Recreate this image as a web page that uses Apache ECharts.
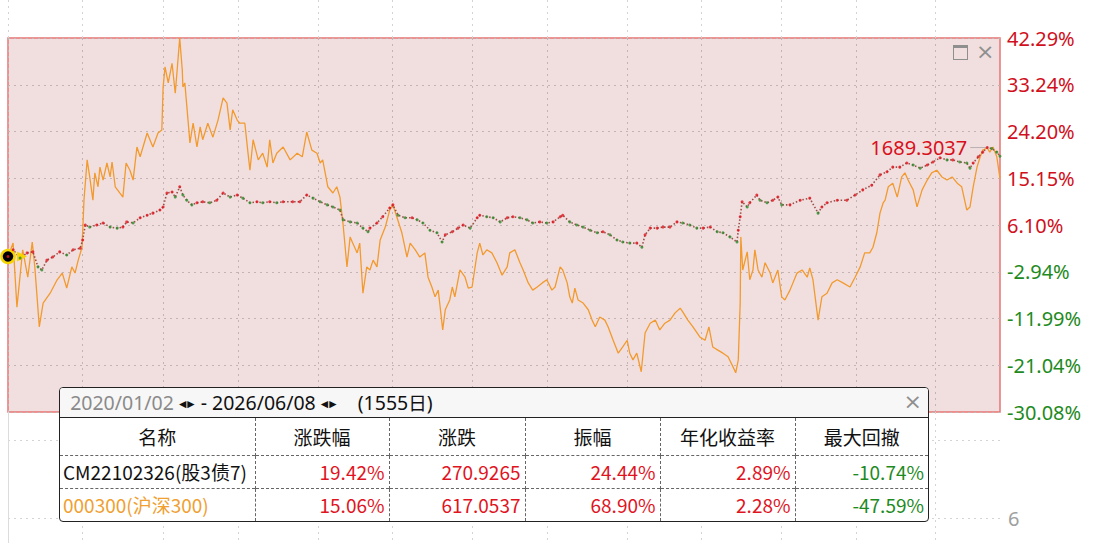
<!DOCTYPE html>
<html><head><meta charset="utf-8">
<script src="https://cdn.jsdelivr.net/npm/echarts@6/dist/echarts.min.js"></script>
<style>
html,body{margin:0;padding:0;background:#fff;width:1097px;height:543px;overflow:hidden;font-family:"Noto Sans CJK SC","Noto Sans",sans-serif;}
#chart{position:absolute;left:0;top:0;width:1097px;height:543px;}
#icons{position:absolute;left:953px;top:44px;width:45px;height:18px;}
#icons .box{position:absolute;left:0;top:1px;width:13px;height:11px;border:1.5px solid #8f8f8f;border-top-width:3px;}
#icons .x{position:absolute;left:23px;top:-6px;font-size:22px;color:#8f8f8f;line-height:28px;font-family:"DejaVu Sans",sans-serif;}
#panel{position:absolute;left:59px;top:387px;width:868px;border:1.5px solid #222;border-radius:4px;background:#fff;overflow:hidden;}
#title{height:28.5px;border-bottom:1.5px solid #222;background:#f7f7f7;position:relative;font-size:19.5px;line-height:28px;white-space:pre;color:#111;font-family:"Noto Sans","Noto Sans CJK SC",sans-serif;}
#title .d1{color:#8a8a8a;}
#title .arr{font-family:"DejaVu Sans",sans-serif;font-size:9.5px;vertical-align:3px;letter-spacing:1px;}
#title .cjk{font-family:"Noto Sans CJK SC",sans-serif;font-size:18.5px;}
#title .close{position:absolute;right:6px;top:0;color:#8f8f8f;font-size:22px;font-family:"DejaVu Sans",sans-serif;line-height:28px;}
table{border-collapse:collapse;table-layout:fixed;width:868px;font-size:19px;}
td{padding:0 4px;border-left:1px dashed #666;border-top:1px dashed #666;white-space:nowrap;overflow:hidden;}
tr:first-child td{border-top:none;height:37px;text-align:center;color:#111;}
tr td:first-child{border-left:none;}
tr.r td{height:32px;text-align:right;}
tr.r td.nm{text-align:left;padding-left:3px;}
</style>
</head><body>
<div id="chart"></div>
<div id="icons"><div class="box"></div><div class="x">×</div></div>
<div id="panel">
  <div id="title"></div>
  <table id="tbl"></table>
</div>
<script>
// ---- axis ticks ----
const xTickIdx = [0,116,243,361,486,602,728,844,970,1086,1212,1329,1453]; // half-year boundaries (trading-day index)
const xMax = 1554;
const yTicks = [-30.084,-21.0373,-11.9906,-2.9439,6.1028,15.1495,24.1962,33.2429,42.2896];
const yTickLabels = ['-30.08%','-21.04%','-11.99%','-2.94%','6.10%','15.15%','24.20%','33.24%','42.29%'];
const subTicks = [6,12];
const subTickLabels = ['6'];

// ---- series: [trading-day index, cumulative return %] ----
const csi300 = [[0,0],[8,2.6],[14,-9.8],[23,1.3],[31,-4.0],[38,2.8],[42,-2.0],[49,-13.6],[55,-9.0],[66,-7.1],[77,-4.5],[85,-3.2],[92,-6.1],[100,-2.0],[105,-3.2],[110,-0.7],[116,1.8],[119,10.9],[124,18.7],[128,15.4],[133,10.9],[136,16.2],[141,13.5],[144,17.3],[149,14.8],[155,18.1],[160,15.4],[163,18.3],[168,13.5],[175,12.3],[180,11.5],[185,18.1],[191,16.7],[196,14.8],[202,21.2],[207,19.3],[218,23.9],[227,21.2],[235,23.9],[241,24.5],[243,32.8],[246,36.7],[251,33.6],[257,37.4],[262,31.6],[265,36.1],[269,42.29],[273,36.1],[274,32.8],[277,33.6],[282,26.4],[285,22.0],[290,25.8],[296,21.2],[301,25.1],[305,22.6],[313,25.8],[321,23.1],[329,26.4],[337,30.7],[343,29.7],[348,24.5],[352,28.4],[359,26.4],[363,25.8],[371,25.8],[376,20.0],[379,16.7],[384,22.6],[392,18.7],[399,20.0],[406,17.3],[410,22.6],[415,18.1],[421,20.0],[431,21.2],[442,18.7],[453,20.0],[461,19.3],[468,24.1],[476,20.6],[484,20.0],[489,18.1],[493,18.7],[501,13.5],[509,12.3],[515,13.5],[520,11.5],[525,6.1],[531,-2.0],[536,3.8],[540,2.6],[547,0.7],[551,2.6],[556,-7.1],[562,-2.0],[567,-2.6],[572,-0.7],[578,-2.0],[583,3.2],[591,5.7],[598,9.0],[603,10.0],[609,7.7],[617,4.6],[625,-0.1],[630,2.6],[638,1.3],[645,-0.1],[653,0.7],[658,-4.0],[664,-5.9],[669,-7.8],[674,-6.5],[681,-14.2],[685,-10.3],[692,-8.4],[696,-5.9],[700,-7.8],[708,-2.6],[716,-4.0],[721,-6.1],[727,-5.9],[735,0.7],[739,2.6],[744,0.3],[750,1.3],[758,0.7],[766,-1.2],[774,-3.6],[782,-2.0],[786,0.7],[794,1.3],[802,-1.2],[807,-2.6],[815,-5.1],[822,-6.5],[829,-5.9],[837,-5.1],[844,-4.5],[852,-6.5],[857,-5.9],[865,-2.0],[869,-2.6],[876,-5.1],[880,-7.8],[884,-9.0],[888,-6.1],[893,-8.4],[901,-9.0],[909,-10.3],[915,-12.3],[920,-13.6],[927,-11.7],[935,-12.3],[940,-13.6],[948,-16.2],[956,-18.7],[963,-17.5],[970,-16.2],[974,-18.7],[979,-20.0],[985,-18.7],[992,-22.3],[998,-14.8],[1006,-12.9],[1014,-12.3],[1021,-14.2],[1029,-12.9],[1037,-12.3],[1045,-10.9],[1053,-10.0],[1057,-10.7],[1065,-12.3],[1073,-13.6],[1084,-15.6],[1092,-16.2],[1098,-13.6],[1104,-17.5],[1112,-18.1],[1120,-18.7],[1128,-19.4],[1136,-21.4],[1140,-22.5],[1144,-20.0],[1147,-9.0],[1148,3.8],[1151,-2.6],[1158,0.9],[1162,-4.5],[1167,-2.6],[1170,1.3],[1175,-2.6],[1181,-4.0],[1186,-1.2],[1194,-3.2],[1198,-5.1],[1206,-2.6],[1212,-7.8],[1217,-8.4],[1225,-6.5],[1236,-3.2],[1244,-2.6],[1252,-4.0],[1256,-2.2],[1261,-4.5],[1269,-12.3],[1275,-7.8],[1283,-7.1],[1291,-5.1],[1299,-4.5],[1308,-5.1],[1319,-5.9],[1327,-4.0],[1335,-2.0],[1342,0.7],[1350,0.7],[1355,1.8],[1361,4.6],[1366,8.4],[1371,10.4],[1374,10.9],[1379,13.5],[1386,14.2],[1393,11.5],[1400,15.4],[1405,16.2],[1410,14.8],[1418,12.9],[1424,9.6],[1432,12.9],[1440,14.8],[1447,16.2],[1455,16.7],[1463,15.4],[1471,14.8],[1479,15.4],[1487,14.2],[1494,13.5],[1502,9.0],[1507,9.6],[1512,13.5],[1518,17.3],[1523,19.3],[1527,20.6],[1534,21.0],[1538,20.2],[1543,21.2],[1549,19.3],[1554,15.06]];

const cmFund = [[0,0],[8,1.3],[19,-0.3],[30,0.7],[39,0.9],[47,-2.0],[53,-2.6],[61,-0.7],[70,-0.1],[81,0.9],[92,0.3],[102,1.3],[113,1.6],[117,3.2],[121,6.1],[128,5.7],[139,6.1],[149,6.5],[160,5.7],[171,5.5],[180,5.7],[186,6.7],[196,6.5],[207,7.5],[218,8.0],[227,8.4],[238,9.0],[243,9.6],[249,12.3],[257,12.5],[262,11.5],[269,13.5],[274,11.9],[280,10.9],[288,10.0],[296,10.4],[305,10.6],[316,10.4],[327,10.9],[337,12.3],[348,11.5],[359,11.9],[368,11.3],[379,10.4],[390,10.6],[399,10.4],[410,10.6],[421,10.4],[431,10.6],[446,10.6],[457,10.6],[468,11.9],[478,11.3],[489,10.6],[500,10.0],[509,9.6],[520,9.0],[525,7.1],[536,6.7],[547,6.5],[556,5.5],[564,4.8],[567,5.5],[578,6.5],[587,7.7],[598,9.4],[603,10.0],[611,8.0],[622,7.5],[633,7.5],[641,7.1],[650,6.5],[661,5.1],[672,4.6],[680,2.8],[685,4.2],[696,4.8],[705,5.5],[713,6.1],[724,5.5],[735,7.5],[739,8.0],[750,7.7],[760,7.5],[771,6.7],[782,7.5],[791,7.7],[802,7.5],[813,7.1],[822,6.5],[833,6.7],[844,6.5],[854,6.7],[865,7.7],[869,8.0],[880,6.7],[891,6.1],[901,5.7],[912,5.1],[923,4.6],[932,4.8],[943,4.2],[954,3.2],[963,2.8],[974,2.6],[985,2.6],[993,1.8],[998,4.2],[1006,5.5],[1017,5.5],[1026,5.7],[1037,5.7],[1048,6.7],[1057,6.5],[1068,6.1],[1079,5.5],[1089,5.5],[1100,5.7],[1111,4.8],[1120,4.6],[1131,3.8],[1142,2.8],[1144,5.1],[1147,7.7],[1150,10.6],[1158,9.6],[1162,10.4],[1173,11.9],[1178,10.9],[1189,10.4],[1198,10.9],[1206,11.5],[1212,10.0],[1225,10.0],[1241,10.9],[1256,11.3],[1269,8.4],[1275,9.6],[1283,10.4],[1299,10.9],[1314,10.9],[1327,11.9],[1339,12.9],[1353,13.8],[1366,15.8],[1377,16.4],[1386,17.3],[1397,17.3],[1408,18.1],[1418,17.7],[1429,17.1],[1440,17.7],[1449,18.3],[1460,19.1],[1471,18.7],[1480,18.7],[1491,18.3],[1502,18.1],[1507,17.1],[1512,18.1],[1520,19.3],[1527,20.2],[1534,21.09],[1541,20.9],[1549,20.2],[1554,19.42]];
const cmMaxLabel = '1689.3037';

// ---- summary table ----
const dateStart = '2020/01/02', dateEnd = '2026/06/08', dayCount = '(1555日)';
const tableHeaders = ['名称','涨跌幅','涨跌','振幅','年化收益率','最大回撤'];
const rowNames = ['CM22102326(股3债7)','000300(沪深300)'];
const chgPct = ['19.42%','15.06%'];
const chgAbs = ['270.9265','617.0537'];
const amplitude = ['24.44%','68.90%'];
const annualRet = ['2.89%','2.28%'];
const maxDD = ['-10.74%','-47.59%'];

const RED = '#e0141e', GREEN = '#1e8a22', ORANGE = '#f29a2e';

// build panel
document.getElementById('title').innerHTML =
  '  <span class="d1">' + dateStart + '</span> <span class="arr">◀▶</span> - ' + dateEnd +
  ' <span class="arr">◀▶</span>    ' + dayCount.replace('日', '<span class="cjk">日</span>') + '<span class="close">×</span>';
const colW = [195,134,136,135,135,133];
let html = '<colgroup>' + colW.map(w => '<col style="width:' + w + 'px">').join('') + '</colgroup>';
html += '<tr>' + tableHeaders.map(h => '<td>' + h + '</td>').join('') + '</tr>';
const col = s => s.trim().startsWith('-') ? GREEN : RED;
for (let i = 0; i < rowNames.length; i++) {
  const vals = [chgPct[i], chgAbs[i], amplitude[i], annualRet[i], maxDD[i]];
  html += '<tr class="r"><td class="nm" style="color:' + (i === 0 ? '#111' : '#f0a030') + '">' + rowNames[i] + '</td>' +
    vals.map(v => '<td style="color:' + col(v) + '">' + v + '</td>').join('') + '</tr>';
}
document.getElementById('tbl').innerHTML = html;

// ---- chart ----
const chart = echarts.init(document.getElementById('chart'), null, {renderer: 'svg'});
function xAxisFor(gi, color) {
  return {
    type: 'value', gridIndex: gi, min: 0, max: xMax,
    axisLine: {show: false}, axisLabel: {show: false},
    axisTick: {show: false, customValues: xTickIdx},
    splitLine: {show: true, lineStyle: {color: color, type: [2, 4], width: 1}}
  };
}
function yLabel(v) {
  let best = 0;
  for (let i = 1; i < yTicks.length; i++) if (Math.abs(yTicks[i] - v) < Math.abs(yTicks[best] - v)) best = i;
  return yTickLabels[best];
}
const cmMax = cmFund.reduce((a, b) => (b[1] > a[1] ? b : a));

chart.setOption({
  animation: false,
  textStyle: {fontFamily: '"Noto Sans CJK SC","Noto Sans",sans-serif'},
  grid: [
    {left: 8, right: 97, top: 0, height: 38},
    {left: 8, right: 97, top: 38, height: 374, show: true, backgroundColor: '#f1dfdf', borderColor: '#e87474', borderWidth: 1.5},
    {left: 8, right: 97, top: 412, bottom: 0}
  ],
  xAxis: [xAxisFor(0, '#d4d4d4'), xAxisFor(1, '#c4b3b3'), xAxisFor(2, '#d4d4d4')],
  yAxis: [
    {type: 'value', gridIndex: 0, show: false},
    {
      type: 'value', gridIndex: 1, position: 'right', min: yTicks[0], max: yTicks[yTicks.length - 1],
      axisLine: {show: false}, axisTick: {show: false, customValues: yTicks},
      axisLabel: {
        customValues: yTicks, margin: 7, fontSize: 20, fontFamily: '"Noto Sans",sans-serif',
        formatter: v => yLabel(v),
        color: v => (yLabel(v).startsWith('-') ? '#1e8a22' : '#d0101c')
      },
      splitLine: {show: true, lineStyle: {color: '#c4b3b3', type: [2, 4], width: 1}}
    },
    {
      type: 'value', gridIndex: 2, position: 'right', min: 4.077, max: 14.154,
      axisLine: {show: true, lineStyle: {color: '#dcdcdc', width: 1}},
      axisTick: {show: false, customValues: subTicks},
      axisLabel: {customValues: [subTicks[0]], margin: 8, fontSize: 20, color: '#a0a0a0', fontFamily: '"Noto Sans",sans-serif', formatter: () => subTickLabels[0]},
      splitLine: {show: true, lineStyle: {color: '#d4d4d4', type: [2, 4], width: 1}}
    }
  ],
  series: [
    {
      name: '000300(沪深300)', type: 'line', xAxisIndex: 1, yAxisIndex: 1, data: csi300,
      showSymbol: false, symbol: 'none', lineStyle: {color: ORANGE, width: 1.3}, z: 3
    },
    {
      name: 'CM22102326(股3债7)', type: 'line', xAxisIndex: 1, yAxisIndex: 1, data: cmFund,
      showSymbol: false, symbol: 'none', lineStyle: {color: '#9a5048', width: 1.6, type: [1.5, 2]}, z: 4
    },
    {
      name: 'CM22102326(股3债7)', type: 'scatter', xAxisIndex: 1, yAxisIndex: 1, data: cmFund,
      symbolSize: 3, z: 5,
      itemStyle: {color: p => (p.dataIndex === 0 || cmFund[p.dataIndex][1] >= cmFund[p.dataIndex - 1][1]) ? RED : '#2a8a2a'},
      markPoint: {
        silent: true,
        data: [
          {coord: cmFund[0], symbol: 'triangle', symbolRotate: -90, symbolSize: [10, 10], symbolOffset: [14, 0],
           itemStyle: {color: '#f5d400'}, label: {show: false}},
          {coord: cmFund[0], symbol: 'circle', symbolSize: 13,
           itemStyle: {color: '#000', borderColor: '#f5d400', borderWidth: 2.5}, label: {show: false}},
          {coord: cmMax, symbol: 'rect', symbolSize: [17, 1], symbolOffset: [-8.5, 0],
           itemStyle: {color: '#b8b0b0'},
           label: {show: true, position: 'left', distance: 3, formatter: cmMaxLabel, color: '#d8101c', fontSize: 20, fontFamily: '"Noto Sans",sans-serif'}}
        ]
      }
    }
  ]
});
</script>
</body></html>
